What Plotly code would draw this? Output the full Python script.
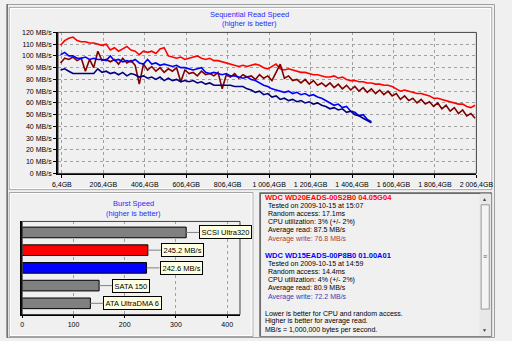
import plotly.graph_objects as go

W, H = 512, 341

# ---------------- data ----------------
wd20_pos_gb = [20 * i for i in range(101)]
wd15_pos_gb = [20 * i for i in range(76)]

wd20_read = [109, 113, 115, 116, 113, 112, 112, 111, 111, 110,
             109, 110, 105, 107, 104, 106, 108, 105, 104, 101,
             104, 103, 104, 102, 106, 107, 100, 99, 98, 99,
             97, 98, 99, 100, 98, 97, 98, 96, 96, 95,
             94, 93, 92, 91, 92, 91, 92, 93, 92, 90,
             89, 91, 93, 89, 88, 89, 88, 87, 86, 86,
             85, 84, 84, 83, 82, 82, 83, 81, 82, 80,
             79, 79, 78, 78, 77, 77, 76, 76, 75, 75,
             74, 72, 70, 71, 70, 69, 68, 68, 67, 66,
             64, 64, 63, 62, 61, 60, 59, 59, 57, 56, 58]
wd20_write = [94, 98, 97, 99, 96, 98, 87, 97, 90, 104,
              96, 97, 95, 97, 93, 98, 94, 96, 92, 76,
              93, 88, 91, 87, 90, 86, 89, 87, 90, 78,
              88, 85, 86, 83, 87, 84, 85, 83, 86, 72,
              84, 82, 85, 81, 84, 82, 83, 80, 84, 81,
              83, 79, 86, 93, 81, 83, 79, 80, 77, 80,
              76, 79, 75, 77, 74, 77, 73, 76, 72, 75,
              71, 74, 70, 73, 69, 72, 68, 71, 67, 70,
              66, 68, 63, 66, 62, 64, 60, 63, 59, 61,
              57, 60, 55, 58, 53, 56, 51, 54, 49, 51, 47]
wd15_read = [101, 103, 100, 100, 98, 98, 99, 97, 98, 97,
             97, 96, 100, 96, 97, 95, 96, 95, 97, 94,
             93, 97, 93, 94, 92, 93, 92, 91, 92, 90,
             90, 89, 88, 89, 90, 86, 85, 86, 85, 84,
             85, 83, 83, 82, 81, 82, 80, 79, 77, 75,
             74, 72, 71, 70, 69, 70, 68, 69, 67, 68,
             66, 67, 65, 64, 62, 60, 58, 59, 56, 57,
             53, 52, 49, 50, 46, 44]
wd15_write = [88, 89, 87, 85, 85, 85, 85, 85, 85, 89,
              86, 87, 85, 86, 84, 86, 83, 85, 84, 82,
              83, 81, 82, 80, 82, 79, 81, 79, 80, 78,
              79, 78, 79, 77, 78, 76, 77, 75, 75, 75,
              75, 75, 74, 74, 74, 72, 71, 69, 70, 67,
              68, 65, 66, 63, 64, 62, 63, 61, 62, 60,
              61, 59, 60, 58, 57, 55, 56, 54, 55, 52,
              53, 50, 49, 47, 45, 43]

seq_tick_vals = [6.4, 206.4, 406.4, 606.4, 806.4, 1006.4, 1206.4, 1406.4, 1606.4, 1806.4, 2006.4]
seq_tick_text = ["6,4GB", "206,4GB", "406,4GB", "606,4GB", "806,4GB", "1 006,4GB",
                 "1 206,4GB", "1 406,4GB", "1 606,4GB", "1 806,4GB", "2 006,4GB"]
speed_tick_vals = [0, 10, 20, 30, 40, 50, 60, 70, 80, 90, 100, 110, 120]
speed_tick_text = [f"{v} MB/s" for v in speed_tick_vals]

burst_categories = ["SCSI Ultra320", "WDC WD20EADS-00S2B0", "WDC WD15EADS-00P8B0", "SATA 150", "ATA UltraDMA 6"]
burst_values = [320, 245.2, 242.6, 150, 133]
burst_labels = ["SCSI Ultra320", "245.2 MB/s", "242.6 MB/s", "SATA 150", "ATA UltraDMA 6"]
burst_colors = ["#808080", "#ff0000", "#0000ff", "#808080", "#808080"]

info_lines = [
    ("WDC WD20EADS-00S2B0 04.05G04", "#ff0000", True, 0),
    ("Tested on 2009-10-15 at 15:07", "#000000", False, 4),
    ("Random access: 17.1ms", "#000000", False, 4),
    ("CPU utilization: 3% (+/- 2%)", "#000000", False, 4),
    ("Average read: 87.5 MB/s", "#000000", False, 4),
    ("Average write: 76.8 MB/s", "#a83c3c", False, 4),
    ("", "#000000", False, 0),
    ("WDC WD15EADS-00P8B0 01.00A01", "#0000ff", True, 0),
    ("Tested on 2009-10-15 at 14:59", "#000000", False, 4),
    ("Random access: 14.4ms", "#000000", False, 4),
    ("CPU utilization: 4% (+/- 2%)", "#000000", False, 4),
    ("Average read: 80.9 MB/s", "#000000", False, 4),
    ("Average write: 72.2 MB/s", "#3c3cb0", False, 4),
    ("", "#000000", False, 0),
    ("Lower is better for CPU and random access.", "#000000", False, 0),
    ("Higher is better for average read.", "#000000", False, 0),
    ("MB/s = 1,000,000 bytes per second.", "#000000", False, 0),
]

# ---------------- helpers ----------------
def px(x):
    return x / W


def py(y):
    return 1 - y / H


FONT = "Liberation Sans, Arial, sans-serif"
BG = "#f0f0f0"

fig = go.Figure()

series = [
    (wd20_pos_gb, wd20_read, "#ff0000"),
    (wd20_pos_gb, wd20_write, "#800000"),
    (wd15_pos_gb, wd15_read, "#0000ff"),
    (wd15_pos_gb, wd15_write, "#000080"),
]
for xs, ys, col in series:
    fig.add_trace(go.Scatter(x=xs, y=ys, mode="lines", line=dict(color=col, width=1.6),
                             xaxis="x", yaxis="y", hoverinfo="skip"))

fig.add_trace(go.Bar(x=burst_values, y=burst_categories, orientation="h",
                     marker=dict(color=burst_colors, line=dict(color="#000000", width=1)),
                     width=0.6, xaxis="x2", yaxis="y2", hoverinfo="skip"))

# sequential axes
L, R, T, B = 54.5, 492.5, 29, 173
fig.update_layout(
    xaxis=dict(domain=[px(L), px(R)], range=[-12, 2006.4], tickvals=seq_tick_vals,
               ticktext=seq_tick_text, showgrid=True, gridcolor="#a0a0a0", griddash="dot",
               gridwidth=1, zeroline=False, showline=True, linecolor="#000000", linewidth=2,
               ticks="outside", ticklen=3, tickcolor="#000000",
               tickfont=dict(family=FONT, size=7, color="#000000"), anchor="y"),
    yaxis=dict(domain=[py(B), py(T)], range=[0, 120], tickvals=speed_tick_vals,
               ticktext=speed_tick_text, showgrid=True, gridcolor="#a0a0a0", griddash="dot",
               gridwidth=1, zeroline=False, showline=True, linecolor="#000000", linewidth=2,
               ticks="outside", ticklen=3, tickcolor="#000000",
               tickfont=dict(family=FONT, size=7, color="#000000"), anchor="x"),
)

# burst axes
bL, bR, bT, bB = 17, 245, 222, 317
fig.update_layout(
    xaxis2=dict(domain=[px(bL), px(bR)], range=[0, 425], tickvals=[0, 100, 200, 300, 400],
                showgrid=True, gridcolor="#a0a0a0", griddash="dot", gridwidth=1,
                zeroline=False, showline=True, linecolor="#000000", linewidth=2,
                ticks="outside", ticklen=2, tickcolor="#000000",
                tickfont=dict(family=FONT, size=7, color="#000000"), anchor="y2"),
    yaxis2=dict(domain=[py(bB), py(bT)], range=[4.63, -0.62], showticklabels=False,
                showgrid=False, zeroline=False, showline=True, linecolor="#000000",
                linewidth=2, ticks="", anchor="x2", type="category",
                categoryorder="array", categoryarray=burst_categories),
)

shapes = []


def rect(x0, y0, x1, y1, line="#a0a0a0", fill=None, width=1, layer="below"):
    d = dict(type="rect", xref="paper", yref="paper", x0=px(x0), x1=px(x1), y0=py(y1), y1=py(y0),
             line=dict(color=line, width=width), layer=layer)
    if fill:
        d["fillcolor"] = fill
    shapes.append(d)


def hline(x0, x1, y, color, width=1, layer="below"):
    shapes.append(dict(type="line", xref="paper", yref="paper", x0=px(x0), x1=px(x1), y0=py(y), y1=py(y),
                       line=dict(color=color, width=width), layer=layer))


def vline(x, y0, y1, color, width=1, layer="below"):
    shapes.append(dict(type="line", xref="paper", yref="paper", x0=px(x), x1=px(x), y0=py(y0), y1=py(y1),
                       line=dict(color=color, width=width), layer=layer))


# window borders
rect(0.5, 0.5, 511.5, 340.5, line="#a0a0a0")
vline(1.5, 0, 341, "#696969")
rect(3.5, 3.5, 508.5, 189.5, line="#a0a0a0")
rect(4.5, 4.5, 507.5, 188.5, line="#ffffff")
rect(3.5, 192.5, 258.5, 339.5, line="#a0a0a0")
rect(4.5, 193.5, 257.5, 338.5, line="#ffffff")
# text box
rect(265.5, 192.5, 508.5, 339.5, line="#828282", fill="#f0f0f0")
hline(266, 508, 193.5, "#696969")
vline(266.5, 193, 339, "#696969")
# scrollbar
rect(496.5, 194, 507, 338, line="#e6e6e6", fill="#e8e8e8")
rect(497.5, 205, 506, 311.5, line="#9a9a9a", fill="#f4f4f4")
# plot frames (thin top/right)
rect(L, T, R, B, line="#404040", width=1, layer="above")
rect(bL, bT, bR, bB, line="#404040", width=1, layer="above")

annotations = []


def text(x, y, s, size=7, color="#000000", bold=False, xanchor="center", family=FONT):
    annotations.append(dict(xref="paper", yref="paper", x=px(x), y=py(y), text=(f"<b>{s}</b>" if bold else s),
                            showarrow=False, xanchor=xanchor, yanchor="middle",
                            font=dict(family=family, size=size, color=color)))


text(255, 11, "Sequential Read Speed", size=7.5, color="#2b2bff")
text(255, 20, "(higher is better)", size=7.5, color="#2b2bff")
text(133, 204, "Burst Speed", size=7.5, color="#2b2bff")
text(133, 214, "(higher is better)", size=7.5, color="#2b2bff")

# burst labels
for cat, val, lab in zip(burst_categories, burst_values, burst_labels):
    annotations.append(dict(xref="x2", yref="y2", x=val, y=cat, text=lab, showarrow=True,
                            arrowhead=0, arrowwidth=1, arrowcolor="#808080", ax=13, ay=0,
                            xanchor="left", yanchor="middle", bgcolor="#ffffe1",
                            bordercolor="#000000", borderwidth=1, borderpad=1.5,
                            font=dict(family=FONT, size=7.5, color="#000000")))

# info lines
y0 = 197.3
step = 8.45
for i, (s, col, bold, indent) in enumerate(info_lines):
    if s:
        text(268.7 + indent, y0 + i * step, s, size=7.5 if bold else 7, color=col, bold=bold, xanchor="left")

# scrollbar glyphs
text(501.5, 199, "▲", size=5, color="#404040")
text(501.5, 333, "▼", size=5, color="#404040")
text(501.7, 258, "≡", size=7, color="#606060")

fig.update_layout(
    width=W, height=H, margin=dict(l=0, r=0, t=0, b=0),
    paper_bgcolor=BG, plot_bgcolor=BG, showlegend=False, bargap=0.4,
    shapes=shapes, annotations=annotations,
)

fig.write_html("out.html")
